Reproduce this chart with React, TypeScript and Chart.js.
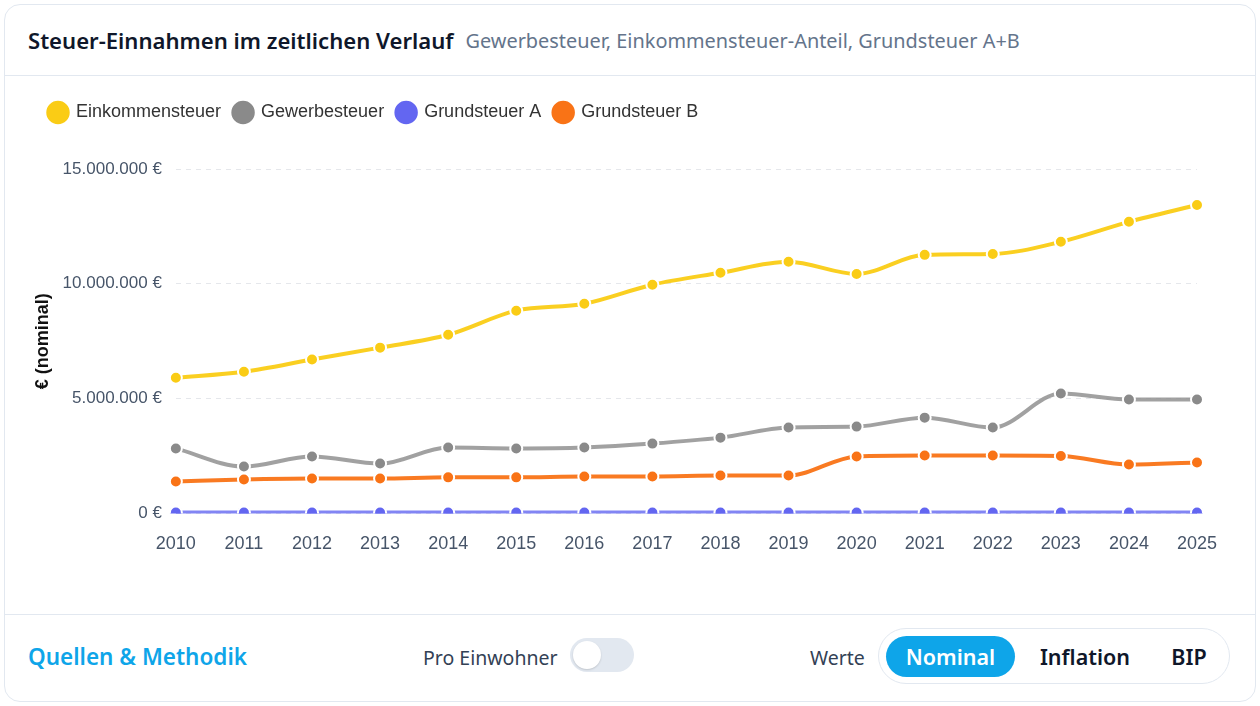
import React, { useEffect, useRef } from "react";
import { Chart, registerables } from "chart.js";

Chart.register(...registerables);

const years = ["2010","2011","2012","2013","2014","2015","2016","2017","2018","2019","2020","2021","2022","2023","2024","2025"];
const einkommensteuer = [5910000,6170000,6700000,7220000,7780000,8830000,9130000,9960000,10480000,10960000,10430000,11260000,11300000,11830000,12700000,13430000];
const gewerbesteuer = [2830000,2040000,2480000,2170000,2870000,2830000,2870000,3040000,3300000,3740000,3780000,4170000,3740000,5220000,4960000,4960000];
const grundsteuerA = [35000,35000,35000,35000,35000,36000,36000,36000,36000,36000,36000,36000,36000,36000,36000,37000];
const grundsteuerB = [1390000,1480000,1520000,1520000,1570000,1570000,1610000,1610000,1650000,1650000,2480000,2520000,2520000,2500000,2130000,2220000];

const seriesNames = ["Einkommensteuer", "Gewerbesteuer", "Grundsteuer A", "Grundsteuer B"];
const pointColors = ["#facc15", "#8a8a8a", "#6366f1", "#f97316"];
const lineColors = ["rgba(250,204,21,0.95)", "rgba(138,138,138,0.8)", "rgba(99,102,241,0.8)", "rgba(249,115,22,0.95)"];

const fmt = (v: number) => v.toLocaleString("de-DE") + " €";

const legendSpacer = {
  id: "legendSpacer",
  beforeInit(chart: any) {
    const orig = chart.legend.fit;
    chart.legend.fit = function () {
      orig.bind(chart.legend)();
      this.height += 37.5;
    };
  },
  afterLayout(chart: any) {
    chart.legend.left += 4;
    chart.legend.right += 4;
  },
};

export default function App() {
  const ref = useRef<HTMLCanvasElement | null>(null);
  useEffect(() => {
    document.body.style.margin = "0";
    const ctx = ref.current!;
    const data = [einkommensteuer, gewerbesteuer, grundsteuerA, grundsteuerB];
    const font = "'Liberation Sans', Arial, sans-serif";
    const chart = new Chart(ctx, {
      type: "line",
      data: {
        labels: years,
        datasets: data.map((d, i) => ({
          label: seriesNames[i],
          data: d,
          borderColor: lineColors[i],
          backgroundColor: pointColors[i],
          pointBackgroundColor: pointColors[i],
          pointBorderColor: "#ffffff",
          pointBorderWidth: 2,
          pointRadius: 6,
          borderWidth: 4,
          cubicInterpolationMode: "monotone" as const,
          fill: false,
        })),
      },
      plugins: [legendSpacer],
      options: {
        animation: false,
        responsive: true,
        maintainAspectRatio: false,
        layout: { padding: { top: 14.5, right: 58, bottom: 47, left: 27 } },
        plugins: {
          legend: {
            position: "top",
            align: "start",
            labels: {
              usePointStyle: true,
              pointStyle: "circle",
              boxWidth: 20,
              boxHeight: 20,
              padding: 13,
              color: "#333",
              font: { family: font, size: 18 },
            },
          },
          tooltip: { enabled: false },
        },
        scales: {
          x: {
            grid: { display: false },
            border: { display: false },
            ticks: { color: "#475569", font: { family: font, size: 18 }, padding: 12 },
          },
          y: {
            min: 0,
            max: 15000000,
            border: { display: false, dash: [5, 5] },
            grid: { color: "#e5e7eb", drawTicks: false },
            ticks: {
              stepSize: 5000000,
              color: "#475569",
              padding: 14,
              font: { family: font, size: 17 },
              callback: (v: any) => fmt(Number(v)),
            },
            title: {
              display: true,
              text: "€ (nominal)",
              color: "#111",
              font: { family: font, size: 18, weight: "bold" },
              padding: { top: 0, bottom: -5 },
            },
          },
        },
      },
    });
    return () => chart.destroy();
  }, []);

  const ui = "'Noto Sans', 'Open Sans', sans-serif";
  return (
    <div style={{ position: "absolute", left: 4, top: 4, width: 1252, height: 698, boxSizing: "border-box", border: "1px solid #e2e8f0", borderRadius: 16, background: "#fff", fontFamily: ui, overflow: "hidden" }}>
      <div style={{ height: 71, boxSizing: "border-box", borderBottom: "1px solid #e2e8f0", display: "flex", alignItems: "center", paddingLeft: 23 }}>
        <span style={{ fontSize: 22.1, fontWeight: 600, color: "#0f172a" }}>Steuer-Einnahmen im zeitlichen Verlauf</span>
        <span style={{ fontSize: 19.9, color: "#64748b", marginLeft: 12 }}>Gewerbesteuer, Einkommensteuer-Anteil, Grundsteuer A+B</span>
      </div>
      <div style={{ position: "relative", height: 539, boxSizing: "border-box", borderBottom: "1px solid #e2e8f0" }}>
        <canvas ref={ref} />
      </div>
      <div style={{ position: "relative", height: 86 }}>
        <span style={{ position: "absolute", left: 23, top: 26, fontSize: 22.5, fontWeight: 600, color: "#0ea5e9" }}>Quellen &amp; Methodik</span>
        <span style={{ position: "absolute", left: 418, top: 29, fontSize: 19.5, color: "#334155" }}>Pro Einwohner</span>
        <div style={{ position: "absolute", left: 565, top: 23, width: 64, height: 34, borderRadius: 17, background: "#e2e8f0" }}>
          <div style={{ position: "absolute", left: 3, top: 3, width: 28, height: 28, borderRadius: 14, background: "#fff", boxShadow: "0 1px 2px rgba(0,0,0,0.15)" }} />
        </div>
        <span style={{ position: "absolute", left: 805, top: 29, fontSize: 19.5, color: "#334155" }}>Werte</span>
        <div style={{ position: "absolute", left: 873, top: 13, width: 352, height: 56, boxSizing: "border-box", border: "1px solid #e2e8f0", borderRadius: 28 }}>
          <div style={{ position: "absolute", left: 7, top: 7, width: 129, height: 41, borderRadius: 21, background: "#0ea5e9", color: "#fff", fontSize: 21.5, fontWeight: 600, display: "flex", alignItems: "center", justifyContent: "center" }}>Nominal</div>
          <div style={{ position: "absolute", left: 146, top: 7, width: 120, height: 41, color: "#0f172a", fontSize: 21.5, fontWeight: 600, display: "flex", alignItems: "center", justifyContent: "center" }}>Inflation</div>
          <div style={{ position: "absolute", left: 275, top: 7, width: 70, height: 41, color: "#0f172a", fontSize: 21.5, fontWeight: 600, display: "flex", alignItems: "center", justifyContent: "center" }}>BIP</div>
        </div>
      </div>
    </div>
  );
}
